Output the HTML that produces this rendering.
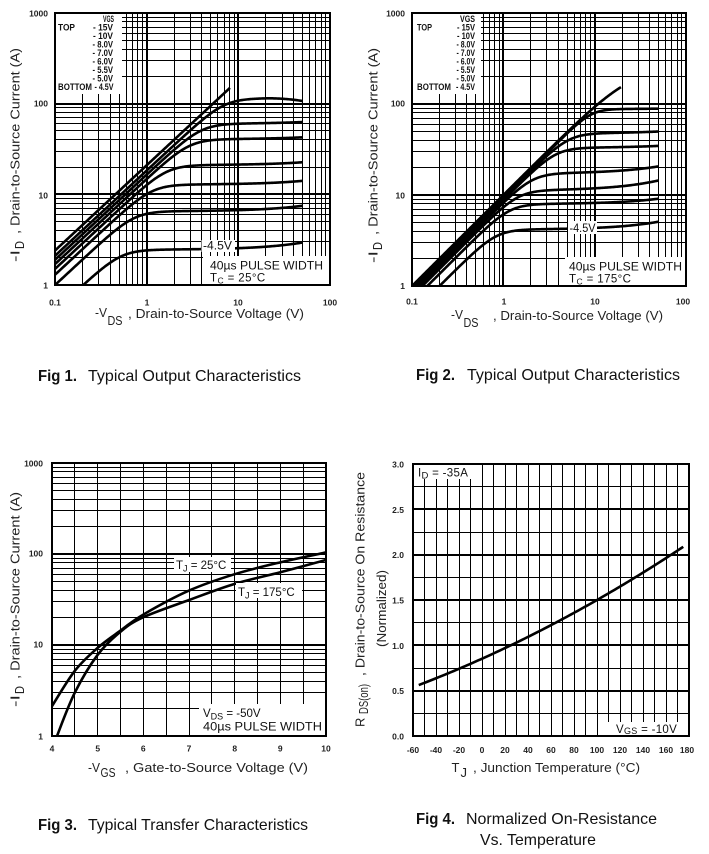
<!DOCTYPE html>
<html><head><meta charset="utf-8">
<style>
html,body{margin:0;padding:0;background:#fff;}
svg{display:block;font-family:"Liberation Sans",Arial,sans-serif;}
.tk{font-size:8.5px;font-weight:bold;fill:#222;}
.lg{font-size:9px;font-weight:bold;fill:#111;}
.an{font-size:11.5px;fill:#111;}
.ax{font-size:13px;fill:#222;}
.ti{font-size:16px;fill:#111;}
</style></head>
<body>
<svg id="s" width="709" height="854" viewBox="0 0 709 854" xmlns="http://www.w3.org/2000/svg">
<defs>
<clipPath id="c1"><rect x="55" y="13" width="275" height="272"/></clipPath>
<clipPath id="c2"><rect x="412" y="13" width="274" height="273"/></clipPath>
<clipPath id="c3"><rect x="52" y="463" width="274" height="273"/></clipPath>
<clipPath id="c4"><rect x="413" y="464" width="276" height="272"/></clipPath>
</defs>
<rect x="0" y="0" width="709" height="854" fill="#fff"/>

<!-- ================= FIG 1 ================= -->
<g id="g1"></g>
<g id="k1" clip-path="url(#c1)"></g>
<rect x="55" y="13" width="67" height="81" fill="#fff"/>
<rect x="201.5" y="240" width="33.5" height="12" fill="#fff"/>
<rect x="203" y="256" width="127" height="29" fill="#fff"/>
<rect x="55" y="13" width="275" height="272" fill="none" stroke="#000" stroke-width="2"/>
<text class="lg" x="103" y="22" textLength="11" lengthAdjust="spacingAndGlyphs">VGS</text>
<text class="lg" x="58" y="30.5" textLength="17" lengthAdjust="spacingAndGlyphs">TOP</text>
<text class="lg" x="93" y="30.5" textLength="20" lengthAdjust="spacingAndGlyphs">- 15V</text>
<text class="lg" x="93" y="39" textLength="20" lengthAdjust="spacingAndGlyphs">- 10V</text>
<text class="lg" x="92.5" y="47.5" textLength="20.5" lengthAdjust="spacingAndGlyphs">- 8.0V</text>
<text class="lg" x="92.5" y="56" textLength="20.5" lengthAdjust="spacingAndGlyphs">- 7.0V</text>
<text class="lg" x="92.5" y="64.5" textLength="20.5" lengthAdjust="spacingAndGlyphs">- 6.0V</text>
<text class="lg" x="92.5" y="73" textLength="20.5" lengthAdjust="spacingAndGlyphs">- 5.5V</text>
<text class="lg" x="92.5" y="81.5" textLength="20.5" lengthAdjust="spacingAndGlyphs">- 5.0V</text>
<text class="lg" x="58" y="90" textLength="34" lengthAdjust="spacingAndGlyphs">BOTTOM</text>
<text class="lg" x="94.5" y="90" textLength="19" lengthAdjust="spacingAndGlyphs">- 4.5V</text>
<text class="an" x="203" y="249.5" textLength="29" lengthAdjust="spacingAndGlyphs">-4.5V</text>
<text class="an" x="210" y="269.5" textLength="113" lengthAdjust="spacingAndGlyphs">40µs PULSE WIDTH</text>
<text class="an" x="210" y="281.5" letter-spacing="0.4">T<tspan font-size="8.5" dy="2">C</tspan><tspan dy="-2"> = 25°C</tspan></text>
<text class="tk" x="48" y="16.5" text-anchor="end">1000</text>
<text class="tk" x="48" y="106.5" text-anchor="end">100</text>
<text class="tk" x="48" y="198.5" text-anchor="end">10</text>
<text class="tk" x="48" y="288.5" text-anchor="end">1</text>
<text class="tk" x="55" y="305.5" text-anchor="middle">0.1</text>
<text class="tk" x="147" y="305.5" text-anchor="middle">1</text>
<text class="tk" x="238" y="305.5" text-anchor="middle">10</text>
<text class="tk" x="330" y="305.5" text-anchor="middle">100</text>
<text class="ax" x="95" y="317" textLength="12" lengthAdjust="spacingAndGlyphs">-V</text>
<text class="ax" x="107.5" y="325" font-size="10.5" textLength="15" lengthAdjust="spacingAndGlyphs">DS</text>
<text class="ax" x="128" y="318" textLength="176" lengthAdjust="spacingAndGlyphs">, Drain-to-Source Voltage (V)</text>
<text class="ax" transform="translate(19.5,262) rotate(-90)" textLength="12" lengthAdjust="spacingAndGlyphs">-I</text>
<text class="ax" transform="translate(24,249) rotate(-90)" font-size="10.5" textLength="8" lengthAdjust="spacingAndGlyphs">D</text>
<text class="ax" transform="translate(19.5,234) rotate(-90)" textLength="186" lengthAdjust="spacingAndGlyphs">, Drain-to-Source Current (A)</text>

<!-- ================= FIG 2 ================= -->
<g id="g2"></g>
<g id="k2" clip-path="url(#c2)"></g>
<rect x="412" y="13" width="69" height="81" fill="#fff"/>
<rect x="568" y="221" width="29" height="13" fill="#fff"/>
<rect x="565" y="257" width="121" height="29" fill="#fff"/>
<rect x="412" y="13" width="274" height="273" fill="none" stroke="#000" stroke-width="2"/>
<text class="lg" x="460" y="22" textLength="15" lengthAdjust="spacingAndGlyphs">VGS</text>
<text class="lg" x="417" y="30.5" textLength="15" lengthAdjust="spacingAndGlyphs">TOP</text>
<text class="lg" x="457" y="30.5" textLength="18" lengthAdjust="spacingAndGlyphs">- 15V</text>
<text class="lg" x="457" y="39" textLength="18" lengthAdjust="spacingAndGlyphs">- 10V</text>
<text class="lg" x="456.5" y="47.5" textLength="18.5" lengthAdjust="spacingAndGlyphs">- 8.0V</text>
<text class="lg" x="456.5" y="56" textLength="18.5" lengthAdjust="spacingAndGlyphs">- 7.0V</text>
<text class="lg" x="456.5" y="64.5" textLength="18.5" lengthAdjust="spacingAndGlyphs">- 6.0V</text>
<text class="lg" x="456.5" y="73" textLength="18.5" lengthAdjust="spacingAndGlyphs">- 5.5V</text>
<text class="lg" x="456.5" y="81.5" textLength="18.5" lengthAdjust="spacingAndGlyphs">- 5.0V</text>
<text class="lg" x="417" y="90" textLength="34" lengthAdjust="spacingAndGlyphs">BOTTOM</text>
<text class="lg" x="456" y="90" textLength="19" lengthAdjust="spacingAndGlyphs">- 4.5V</text>
<text class="an" x="569.5" y="232" textLength="26" lengthAdjust="spacingAndGlyphs">-4.5V</text>
<text class="an" x="569" y="270.5" textLength="113" lengthAdjust="spacingAndGlyphs">40µs PULSE WIDTH</text>
<text class="an" x="569" y="282.5" letter-spacing="0.4">T<tspan font-size="8.5" dy="2">C</tspan><tspan dy="-2"> = 175°C</tspan></text>
<text class="tk" x="405" y="16.5" text-anchor="end">1000</text>
<text class="tk" x="405" y="106.5" text-anchor="end">100</text>
<text class="tk" x="405" y="198.5" text-anchor="end">10</text>
<text class="tk" x="405" y="289" text-anchor="end">1</text>
<text class="tk" x="412" y="304.5" text-anchor="middle">0.1</text>
<text class="tk" x="504" y="304.5" text-anchor="middle">1</text>
<text class="tk" x="595" y="304.5" text-anchor="middle">10</text>
<text class="tk" x="683" y="304.5" text-anchor="middle">100</text>
<text class="ax" x="451" y="319" textLength="12" lengthAdjust="spacingAndGlyphs">-V</text>
<text class="ax" x="463.5" y="327" font-size="10.5" textLength="15" lengthAdjust="spacingAndGlyphs">DS</text>
<text class="ax" x="493" y="320" textLength="170" lengthAdjust="spacingAndGlyphs">, Drain-to-Source Voltage (V)</text>
<text class="ax" transform="translate(377.5,263) rotate(-90)" textLength="12" lengthAdjust="spacingAndGlyphs">-I</text>
<text class="ax" transform="translate(382,250) rotate(-90)" font-size="10.5" textLength="8" lengthAdjust="spacingAndGlyphs">D</text>
<text class="ax" transform="translate(377.5,235) rotate(-90)" textLength="187" lengthAdjust="spacingAndGlyphs">, Drain-to-Source Current (A)</text>

<!-- ================= FIG 3 ================= -->
<g id="g3"></g>
<g id="k3" clip-path="url(#c3)"></g>
<rect x="174" y="557" width="57" height="15" fill="#fff"/>
<rect x="236" y="583" width="66" height="15" fill="#fff"/>
<rect x="199" y="704" width="127" height="32" fill="#fff"/>
<rect x="52" y="463" width="274" height="273" fill="none" stroke="#000" stroke-width="2"/>
<text class="an" x="176" y="569" font-size="12.5">T<tspan font-size="9" dy="2.5">J</tspan><tspan dy="-2.5"> = 25°C</tspan></text>
<text class="an" x="238" y="596" font-size="12.5">T<tspan font-size="9" dy="2.5">J</tspan><tspan dy="-2.5"> = 175°C</tspan></text>
<text class="an" x="203" y="717" font-size="12.5">V<tspan font-size="9" dy="2.5">DS</tspan><tspan dy="-2.5"> = -50V</tspan></text>
<text class="an" x="203" y="730.5" font-size="12" textLength="119" lengthAdjust="spacingAndGlyphs">40µs PULSE WIDTH</text>
<text class="tk" x="43" y="466.5" text-anchor="end">1000</text>
<text class="tk" x="43" y="556.5" text-anchor="end">100</text>
<text class="tk" x="43" y="647.5" text-anchor="end">10</text>
<text class="tk" x="43" y="739.5" text-anchor="end">1</text>
<text class="tk" x="52" y="751.5" text-anchor="middle">4</text>
<text class="tk" x="97.7" y="751.5" text-anchor="middle">5</text>
<text class="tk" x="143.3" y="751.5" text-anchor="middle">6</text>
<text class="tk" x="189" y="751.5" text-anchor="middle">7</text>
<text class="tk" x="234.7" y="751.5" text-anchor="middle">8</text>
<text class="tk" x="280.3" y="751.5" text-anchor="middle">9</text>
<text class="tk" x="326" y="751.5" text-anchor="middle">10</text>
<text class="ax" x="88" y="772" textLength="12" lengthAdjust="spacingAndGlyphs">-V</text>
<text class="ax" x="100.5" y="777" font-size="9.5" textLength="15" lengthAdjust="spacingAndGlyphs">GS</text>
<text class="ax" x="125" y="772" textLength="183" lengthAdjust="spacingAndGlyphs">, Gate-to-Source Voltage (V)</text>
<text class="ax" transform="translate(19.5,707) rotate(-90)" textLength="12" lengthAdjust="spacingAndGlyphs">-I</text>
<text class="ax" transform="translate(24,694) rotate(-90)" font-size="10.5" textLength="8" lengthAdjust="spacingAndGlyphs">D</text>
<text class="ax" transform="translate(19.5,679) rotate(-90)" textLength="187" lengthAdjust="spacingAndGlyphs">, Drain-to-Source Current (A)</text>

<!-- ================= FIG 4 ================= -->
<g id="g4"></g>
<g id="k4" clip-path="url(#c4)"></g>
<rect x="413" y="464" width="68" height="15" fill="#fff"/>
<rect x="608" y="722" width="81" height="14" fill="#fff"/>
<rect x="413" y="464" width="276" height="272" fill="none" stroke="#000" stroke-width="2"/>
<text class="an" x="418" y="476.5" font-size="12.5" letter-spacing="0.3">I<tspan font-size="9.5" dy="2">D</tspan><tspan dy="-2"> = -35A</tspan></text>
<text class="an" x="616" y="733" font-size="12" letter-spacing="0.3">V<tspan font-size="9" dy="1">GS</tspan><tspan dy="-1">  = -10V</tspan></text>
<text class="tk" x="404" y="467.5" text-anchor="end">3.0</text>
<text class="tk" x="404" y="512.8" text-anchor="end">2.5</text>
<text class="tk" x="404" y="558.2" text-anchor="end">2.0</text>
<text class="tk" x="404" y="603.5" text-anchor="end">1.5</text>
<text class="tk" x="404" y="648.8" text-anchor="end">1.0</text>
<text class="tk" x="404" y="694.2" text-anchor="end">0.5</text>
<text class="tk" x="404" y="739.5" text-anchor="end">0.0</text>
<text class="tk" x="413" y="753" text-anchor="middle">-60</text>
<text class="tk" x="436" y="753" text-anchor="middle">-40</text>
<text class="tk" x="459" y="753" text-anchor="middle">-20</text>
<text class="tk" x="482" y="753" text-anchor="middle">0</text>
<text class="tk" x="505" y="753" text-anchor="middle">20</text>
<text class="tk" x="528" y="753" text-anchor="middle">40</text>
<text class="tk" x="551" y="753" text-anchor="middle">60</text>
<text class="tk" x="574" y="753" text-anchor="middle">80</text>
<text class="tk" x="597" y="753" text-anchor="middle">100</text>
<text class="tk" x="620" y="753" text-anchor="middle">120</text>
<text class="tk" x="643" y="753" text-anchor="middle">140</text>
<text class="tk" x="666" y="753" text-anchor="middle">160</text>
<text class="tk" x="687" y="753" text-anchor="middle">180</text>
<text class="ax" x="451.5" y="772" font-size="13.5">T</text>
<text class="ax" x="460.5" y="777" font-size="9">J</text>
<text class="ax" x="473" y="772" textLength="167" lengthAdjust="spacingAndGlyphs">, Junction Temperature (°C)</text>
<text class="ax" transform="translate(364.5,727) rotate(-90)" font-size="13">R</text>
<text class="ax" transform="translate(368,714) rotate(-90)" font-size="9.5" textLength="30" lengthAdjust="spacingAndGlyphs">DS(on)</text>
<text class="ax" transform="translate(364.5,676) rotate(-90)" textLength="204" lengthAdjust="spacingAndGlyphs">, Drain-to-Source On Resistance</text>
<text class="ax" transform="translate(386,647) rotate(-90)" textLength="77" lengthAdjust="spacingAndGlyphs">(Normalized)</text>

<!-- ================= TITLES ================= -->
<text class="ti" x="38" y="381" font-weight="bold" textLength="39" lengthAdjust="spacingAndGlyphs">Fig 1.</text>
<text class="ti" x="88" y="381" textLength="213" lengthAdjust="spacingAndGlyphs">Typical Output Characteristics</text>
<text class="ti" x="416" y="380" font-weight="bold" textLength="39" lengthAdjust="spacingAndGlyphs">Fig 2.</text>
<text class="ti" x="467" y="380" textLength="213" lengthAdjust="spacingAndGlyphs">Typical Output Characteristics</text>
<text class="ti" x="38" y="830" font-weight="bold" textLength="39" lengthAdjust="spacingAndGlyphs">Fig 3.</text>
<text class="ti" x="88" y="830" textLength="220" lengthAdjust="spacingAndGlyphs">Typical Transfer Characteristics</text>
<text class="ti" x="416" y="824" font-weight="bold" textLength="39" lengthAdjust="spacingAndGlyphs">Fig 4.</text>
<text class="ti" x="466" y="824" textLength="191" lengthAdjust="spacingAndGlyphs">Normalized On-Resistance</text>
<text class="ti" x="480" y="845" textLength="116" lengthAdjust="spacingAndGlyphs">Vs. Temperature</text>
</svg>

<script>
(function(){
var NS="http://www.w3.org/2000/svg";
function E(p,t,a){var e=document.createElementNS(NS,t);for(var k in a)e.setAttribute(k,a[k]);p.appendChild(e);return e;}
function cr(v,w){return (w%2===1)?Math.round(v-0.5)+0.5:Math.round(v);}
function vl(g,x,y0,y1,w){x=cr(x,w);E(g,'line',{x1:x,y1:y0,x2:x,y2:y1,stroke:'#000','stroke-width':w});}
function hl(g,y,x0,x1,w){y=cr(y,w);E(g,'line',{x1:x0,y1:y,x2:x1,y2:y,stroke:'#000','stroke-width':w});}
function L(v,lo,hi,a,b){return a+(Math.log10(v)-Math.log10(lo))/(Math.log10(hi)-Math.log10(lo))*(b-a);}

function logGrid(id,x0,x1,y0,y1){
  var g=document.getElementById(id),e,k,v;
  for(e=-1;e<=1;e++)for(k=1;k<=9;k++){v=k*Math.pow(10,e);if(e===-1&&k===1)continue;vl(g,L(v,0.1,100,x0,x1),y0,y1,k===1?2:1);}
  for(e=0;e<=2;e++)for(k=1;k<=9;k++){v=k*Math.pow(10,e);if(e===0&&k===1)continue;hl(g,L(v,1,1000,y1,y0),x0,x1,k===1?2:1);}
}
function outCurves(id,x0,x1,y0,y1,P){
  var g=document.getElementById(id);
  P.forEach(function(p){
    var d='',N=260,vs=0.05,ve=p.ve;
    for(var i=0;i<=N;i++){
      var V=vs*Math.pow(ve/vs,i/N);
      var lin=p.g*Math.pow(V,p.p);
      var Is=p.isf?p.isf(V):(p.is?p.is*(1+p.l*V):0);
      var I=Is?lin/Math.pow(1+Math.pow(lin/Is,p.n),1/p.n):lin;
      var X=L(V,0.1,100,x0,x1),Y=L(I,1,1000,y1,y0);
      d+=(i?'L':'M')+X.toFixed(2)+' '+Y.toFixed(2);
    }
    E(g,'path',{d:d,fill:'none',stroke:'#000','stroke-width':2.6,'stroke-linejoin':'round','stroke-linecap':'butt'});
  });
}
function crPath(pts){
  var d='M'+pts[0][0].toFixed(2)+' '+pts[0][1].toFixed(2);
  for(var i=0;i<pts.length-1;i++){
    var p0=pts[i-1]||pts[i],p1=pts[i],p2=pts[i+1],p3=pts[i+2]||p2;
    var c1=[p1[0]+(p2[0]-p0[0])/6,p1[1]+(p2[1]-p0[1])/6];
    var c2=[p2[0]-(p3[0]-p1[0])/6,p2[1]-(p3[1]-p1[1])/6];
    d+=' C'+c1[0].toFixed(2)+' '+c1[1].toFixed(2)+' '+c2[0].toFixed(2)+' '+c2[1].toFixed(2)+' '+p2[0].toFixed(2)+' '+p2[1].toFixed(2);
  }
  return d;
}

/* FIG 1 */
logGrid('g1',55,330,13,285);
outCurves('k1',55,330,13,285,[
  {g:20.9,p:0.94,ve:8.1,n:4},
  {g:18.3,p:0.94,ve:50,n:4,isf:function(V){
     if(V<20){var lv=Math.max(Math.log10(V),0);return 112+3*lv/1.3;}
     var a=Math.log10(V)-1.3;return 115-50*a*a;}},
  {g:16.5,p:0.94,ve:50,n:4,is:60,l:0.0009},
  {g:14.8,p:0.94,ve:50,n:4,is:40.5,l:0.001},
  {g:13.1,p:0.94,ve:50,n:4,is:21,l:0.0015},
  {g:11.3,p:0.94,ve:50,n:4,is:12.8,l:0.002},
  {g:8.7,p:0.94,ve:50,n:4,is:6.5,l:0.003},
  {g:4.5,p:0.94,ve:50,n:4,is:2.45,l:0.004}
]);

/* FIG 2 */
logGrid('g2',412,686,13,286);
outCurves('k2',412,686,13,286,[
  {g:10,p:1,ve:19.4,n:2,is:250,l:0},
  {g:9.6,p:1,ve:50,n:5,is:88,l:0.0002},
  {g:9.2,p:1,ve:50,n:4,is:47.5,l:0.001},
  {g:8.8,p:1,ve:50,n:4,is:33,l:0.001},
  {g:8.3,p:1,ve:50,n:4,is:17.2,l:0.004},
  {g:7.7,p:1,ve:50,n:4,is:11.2,l:0.0058},
  {g:6.8,p:1,ve:50,n:4,is:7.95,l:0.0029},
  {g:5,p:1,ve:50,n:4,is:4.17,l:0.0044}
]);

/* FIG 3 */
(function(){
  var g=document.getElementById('g3'),v,e,k;
  for(v=4.5;v<9.99;v+=0.5)vl(g,52+(v-4)*274/6,463,736,1);
  for(e=0;e<=2;e++)for(k=1;k<=9;k++){var val=k*Math.pow(10,e);if(e===0&&k===1)continue;hl(g,L(val,1,1000,736,463),52,326,k===1?2:1);}
  function P(a){return a.map(function(q){return [52+(q[0]-4)*274/6,736-Math.log10(q[1])*273/3];});}
  var c25=P([[4,2.13],[4.5,5.2],[5,9.3],[5.5,14.4],[6,21.6],[7,39.6],[8,60],[9,81],[10,104]]);
  var c175=P([[4.05,0.8],[4.11,1],[4.5,3.0],[5,7.8],[5.5,14],[6,20.2],[7,31.2],[8,47],[9,63],[10,86]]);
  var k3=document.getElementById('k3');
  E(k3,'path',{d:crPath(c25),fill:'none',stroke:'#000','stroke-width':2.6});
  E(k3,'path',{d:crPath(c175),fill:'none',stroke:'#000','stroke-width':2.6});
})();

/* FIG 4 */
(function(){
  var g=document.getElementById('g4'),t,r;
  for(t=-50;t<=170;t+=10)vl(g,413+(t+60)*276/240,464,736,1);
  for(var i=1;i<=11;i++){r=i*0.25;hl(g,736-r*272/3,413,689,(i%2===0)?2:1);}
  var d='';
  for(var j=0;j<=120;j++){
    t=-55+230*j/120;
    var rr=1+0.00609*(t-25)+7.7e-6*(t-25)*(t-25);
    var X=413+(t+60)*276/240,Y=736-rr*272/3;
    d+=(j?'L':'M')+X.toFixed(2)+' '+Y.toFixed(2);
  }
  E(document.getElementById('k4'),'path',{d:d,fill:'none',stroke:'#000','stroke-width':2.6});
})();
})();
</script>
</body></html>
